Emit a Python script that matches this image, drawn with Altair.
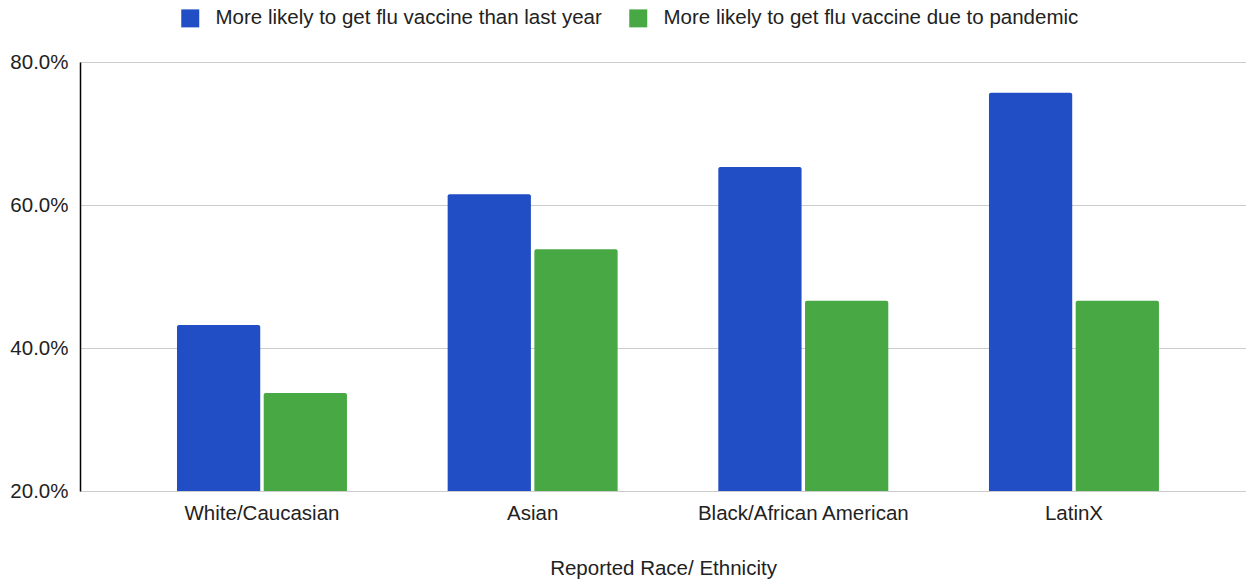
import altair as alt
import pandas as pd

categories = ["White/Caucasian", "Asian", "Black/African American", "LatinX"]
series = ["More likely to get flu vaccine than last year",
          "More likely to get flu vaccine due to pandemic"]
than_last_year = [0.432, 0.615, 0.653, 0.757]
due_to_pandemic = [0.337, 0.538, 0.466, 0.466]
y_ticks = [0.2, 0.4, 0.6, 0.8]

rows = []
for c, a, b in zip(categories, than_last_year, due_to_pandemic):
    rows.append({"cat": c, "series": series[0], "value": a})
    rows.append({"cat": c, "series": series[1], "value": b})
df = pd.DataFrame(rows)

FONT = "Liberation Sans"
FS = 20.5

bars = alt.Chart(df).mark_bar(cornerRadiusTopLeft=2, cornerRadiusTopRight=2).encode(
    x=alt.X("cat:N", sort=categories,
            scale=alt.Scale(paddingInner=0.372, paddingOuter=0.34, align=0.527),
            axis=alt.Axis(title="Reported Race/ Ethnicity", labelAngle=0, domain=False,
                          ticks=False, labelPadding=12, titlePadding=35,
                          labelFontSize=FS, titleFontSize=FS, titleFontWeight="normal",
                          labelColor="#222222", titleColor="#222222",
                          labelFont=FONT, titleFont=FONT, labelLimit=600)),
    xOffset=alt.XOffset("series:N", sort=series, scale=alt.Scale(paddingInner=0.04)),
    y=alt.Y("value:Q", scale=alt.Scale(domain=[0.2, 0.8], nice=False, zero=False),
            axis=alt.Axis(title=None, values=y_ticks, format=".1%", domain=True,
                          domainColor="#000000", domainWidth=1.5, ticks=False,
                          gridColor="#cccccc", labelPadding=12, labelFontSize=FS,
                          labelColor="#222222", labelFont=FONT)),
    y2=alt.datum(0.2),
    color=alt.Color("series:N", sort=series,
                    scale=alt.Scale(domain=series, range=["#224EC5", "#47A844"]),
                    legend=alt.Legend(title=None, orient="none", legendX=100, legendY=-54,
                                      direction="horizontal", symbolType="square",
                                      symbolSize=324, symbolStrokeWidth=0,
                                      labelFontSize=FS, labelFont=FONT, labelColor="#222222",
                                      columnPadding=26, labelOffset=15,
                                      labelLimit=600)),
)

chart = bars.properties(
    width=1166, height=429,
    autosize=alt.AutoSizeParams(type="none"),
    padding={"left": 80, "top": 62, "right": 0, "bottom": 88},
).configure_view(stroke=None).configure_axis(gridWidth=1)

chart.save("out.html", embed_options={"renderer": "svg", "actions": False})
